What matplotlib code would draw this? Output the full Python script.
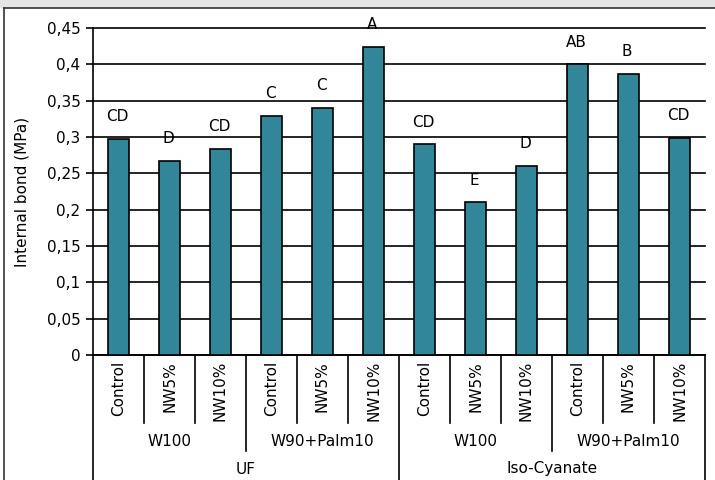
import matplotlib
matplotlib.use('Agg')
import matplotlib.pyplot as plt
from matplotlib.patches import Rectangle
from matplotlib.lines import Line2D
from matplotlib.ticker import FuncFormatter, MultipleLocator
import matplotlib.transforms as mtransforms

# data
treatments = ['Control', 'NW5%', 'NW10%'] * 4
blends = ['W100', 'W90+Palm10', 'W100', 'W90+Palm10']
resins = ['UF', 'Iso-Cyanate']
values = [0.297, 0.267, 0.284, 0.329, 0.340, 0.424,
          0.290, 0.210, 0.260, 0.400, 0.387, 0.299]
letters = ['CD', 'D', 'CD', 'C', 'C', 'A',
           'CD', 'E', 'D', 'AB', 'B', 'CD']

plt.rcParams['font.family'] = ['DejaVu Sans']
plt.rcParams['font.size'] = 11

W, H = 715, 480
fig = plt.figure(figsize=(W / 100, H / 100), dpi=100)

# grey band and frame lines at the top/left
fig.patches.append(Rectangle((0, 1 - 7.5 / H), 1, 7.5 / H, transform=fig.transFigure,
                             facecolor='#e5e5e5', edgecolor='none', zorder=0))
fig.lines.append(Line2D([4 / W, 1], [1 - 8 / H, 1 - 8 / H], transform=fig.transFigure,
                        color='#333333', lw=1.2))
fig.lines.append(Line2D([4 / W, 4 / W], [0, 1 - 8 / H], transform=fig.transFigure,
                        color='#333333', lw=1.2))

x0, x1 = 93, 705
y0, y1 = 355, 28
ax = fig.add_axes([x0 / W, (H - y0) / H, (x1 - x0) / W, (y0 - y1) / H])

n = len(values)
xs = list(range(n))
ax.bar(xs, values, width=0.4, color='#31869a', edgecolor='black', linewidth=1.2, zorder=3)

for x, v, t in zip(xs, values, letters):
    ax.annotate(t, (x, v), xytext=(-1, 16), textcoords='offset points',
                ha='center', va='center', fontsize=11, zorder=4)

ax.set_xlim(-0.5, n - 0.5)
ax.set_ylim(0, 0.45)
ax.yaxis.set_major_locator(MultipleLocator(0.05))
ax.yaxis.set_major_formatter(FuncFormatter(
    lambda v, p: '0' if abs(v) < 1e-9 else ('%g' % round(v, 2)).replace('.', ',')))
ax.grid(axis='y', color='black', lw=1.2, zorder=1)
for gl in ax.get_ygridlines():
    gl.set_clip_on(False)
ax.set_axisbelow(True)
for s in ['top', 'right']:
    ax.spines[s].set_visible(False)
ax.spines['left'].set_linewidth(1.2)
ax.spines['bottom'].set_linewidth(1.2)
ax.tick_params(axis='y', length=5, width=1.2, pad=4)
ax.set_xticks([])
ax.set_ylabel('Internal bond (MPa)', labelpad=12)

# multi-level category axis
tr = mtransforms.blended_transform_factory(ax.transData, ax.transAxes)
px = 1 / (y0 - y1)
lvl1 = -(423 - y0) * px
lvl2 = -(451 - y0) * px
lvl3 = -(H - y0) * px

for k in range(n + 1):
    xb = k - 0.5
    if k == 0 or k == n or k == 6:
        yb = lvl3
    elif k % 3 == 0:
        yb = lvl2
    else:
        yb = lvl1
    ax.plot([xb, xb], [0, yb], transform=tr, color='black', lw=1.2, clip_on=False)

for x, t in zip(xs, treatments):
    ax.text(x, -(361 - y0) * px, t, transform=tr, rotation=90,
            ha='center', va='top')

for g, b in enumerate(blends):
    ax.text(3 * g + 1, -(441 - y0) * px, b, transform=tr, ha='center', va='center')

for g, r in enumerate(resins):
    ax.text(6 * g + 2.5, -(469 - y0) * px, r, transform=tr, ha='center', va='center')

fig.savefig('out.png', dpi=100)
